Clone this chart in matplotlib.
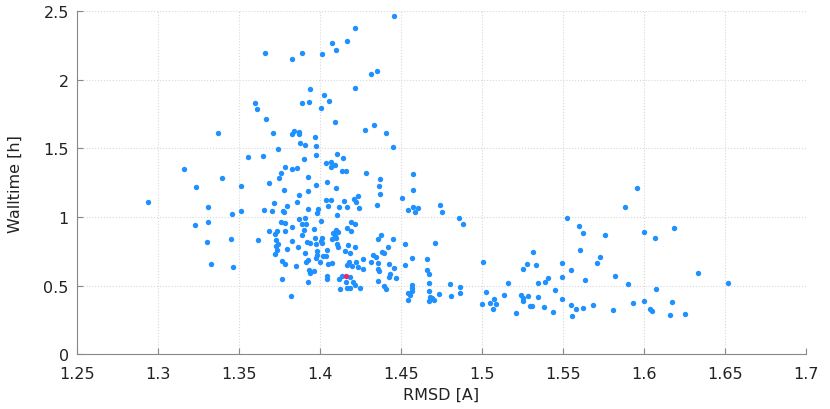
import matplotlib.pyplot as plt
from matplotlib.ticker import FormatStrFormatter

plt.rcParams['font.family'] = ['DejaVu Sans Condensed', 'Liberation Sans Narrow', 'DejaVu Sans']

# RMSD [A] / walltime [h] of each run
rmsd = [
    1.2938, 1.316, 1.3236, 1.3228, 1.331, 1.3309, 1.330, 1.3329, 1.3368, 1.3395,
    1.3451, 1.3459, 1.3461, 1.3512, 1.3514, 1.3556, 1.3597, 1.3613, 1.3619, 1.3646,
    1.3652, 1.366, 1.3665, 1.3683, 1.3687, 1.3706, 1.3712, 1.3716, 1.372, 1.372,
    1.3728, 1.3728, 1.3732, 1.3736, 1.3739, 1.374, 1.3749, 1.3757, 1.3761, 1.3763,
    1.3765, 1.3772, 1.3778, 1.378, 1.3782, 1.3782, 1.3784, 1.3786, 1.3794, 1.3798,
    1.3819, 1.3825, 1.3825, 1.3825, 1.3829, 1.3829, 1.384, 1.3854, 1.3856, 1.3858,
    1.3862, 1.3868, 1.3868, 1.3868, 1.3868, 1.3874, 1.3887, 1.3889, 1.389, 1.389,
    1.3901, 1.3903, 1.3905, 1.3907, 1.3907, 1.3914, 1.3914, 1.3921, 1.3926, 1.3928,
    1.3928, 1.3928, 1.3928, 1.393, 1.3932, 1.3936, 1.3938, 1.3938, 1.3965, 1.3965,
    1.3971, 1.3971, 1.3973, 1.3973, 1.3975, 1.3975, 1.3977, 1.398, 1.398, 1.3983,
    1.399, 1.3998, 1.4004, 1.4008, 1.4008, 1.401, 1.401, 1.4014, 1.402, 1.4027,
    1.4037, 1.4037, 1.4039, 1.4041, 1.4043, 1.4045, 1.4045, 1.4049, 1.4049, 1.4057,
    1.4068, 1.4068, 1.407, 1.4072, 1.4072, 1.4076, 1.4082, 1.4091, 1.4092, 1.4093,
    1.4096, 1.4099, 1.4099, 1.41, 1.4105, 1.4107, 1.4107, 1.4109, 1.4111, 1.4115,
    1.4119, 1.4123, 1.4134, 1.4138, 1.4144, 1.4148, 1.4154, 1.4158, 1.4163, 1.4165,
    1.4169, 1.4169, 1.4169, 1.4169, 1.4173, 1.4181, 1.4185, 1.4185, 1.4185, 1.4189,
    1.4191, 1.42, 1.4206, 1.421, 1.4216, 1.4216, 1.4216, 1.4218, 1.4218, 1.422,
    1.4224, 1.4235, 1.4236, 1.4239, 1.4247, 1.4263, 1.4267, 1.4276, 1.4284, 1.4315,
    1.4317, 1.4329, 1.4333, 1.4344, 1.4352, 1.4352, 1.4356, 1.4356, 1.436, 1.436,
    1.4362, 1.4366, 1.4372, 1.4372, 1.4377, 1.4381, 1.4395, 1.4397, 1.4405, 1.4407,
    1.4422, 1.4428, 1.4428, 1.4432, 1.4451, 1.4453, 1.4457, 1.4459, 1.4469, 1.4506,
    1.4525, 1.4525, 1.4545, 1.4572, 1.4584, 1.4605, 1.4565, 1.4576, 1.4576, 1.4568,
    1.4566, 1.4568, 1.4545, 1.4556, 1.4541, 1.4662, 1.4662, 1.4673, 1.4671, 1.4671,
    1.4679, 1.4675, 1.4689, 1.4706, 1.471, 1.4736, 1.4743, 1.4753, 1.4802, 1.4809,
    1.4856, 1.4862, 1.4866, 1.4883,
    1.4998, 1.5008, 1.5025, 1.5051, 1.5068, 1.5074, 1.5088, 1.5138, 1.5158, 1.5212,
    1.5243, 1.5255, 1.5253, 1.5282, 1.5296, 1.531, 1.5255, 1.5276, 1.5317, 1.5335,
    1.5343, 1.5348, 1.5386, 1.5405, 1.5383, 1.5436, 1.5448, 1.5492, 1.5494, 1.5492,
    1.5527, 1.5547, 1.5556, 1.5551, 1.5578, 1.5596, 1.5621, 1.5605, 1.5638, 1.5623,
    1.5687, 1.5707, 1.573, 1.5757, 1.5811, 1.5823, 1.5883, 1.5903, 1.5932, 1.5957,
    1.6002, 1.6002, 1.607, 1.6076, 1.6037, 1.6051, 1.616, 1.6187, 1.6331, 1.6519,
    1.617, 1.6255,
]
walltime = [
    1.107, 1.353, 1.217, 0.942, 1.071, 0.961, 0.818, 0.657, 1.611, 1.282,
    0.839, 1.024, 0.635, 1.226, 1.044, 1.436, 1.834, 1.79, 0.834, 1.448,
    1.053, 2.195, 1.715, 0.9, 1.245, 1.046, 1.613, 1.1, 0.878, 0.727,
    0.83, 0.786, 0.761, 0.898, 0.803, 1.494, 1.285, 1.319, 0.966, 0.545,
    0.681, 1.046, 1.197, 1.034, 1.363, 0.9, 0.657, 0.956, 1.08, 0.766,
    0.423, 2.153, 1.348, 1.606, 0.924, 0.825, 1.627, 0.639, 1.109, 1.355,
    0.779, 1.62, 1.608, 1.158, 0.985, 1.538, 0.869, 0.951, 2.197, 1.83,
    1.423, 0.905, 0.993, 1.528, 0.74, 0.949, 0.674, 0.815, 1.29, 1.19,
    1.061, 0.686, 0.523, 0.615, 1.842, 0.808, 1.932, 0.593, 0.91, 0.608,
    1.586, 0.847, 1.518, 0.803, 1.231, 0.701, 1.455, 1.027, 0.752, 0.725,
    1.061, 0.674, 0.825, 1.796, 0.973, 2.185, 0.812, 0.849, 0.713, 1.893,
    1.394, 1.122, 0.713, 0.567, 1.253, 0.759, 0.547, 1.083, 0.657, 1.847,
    1.399, 1.367, 1.122, 0.839, 0.664, 2.268, 0.881, 1.38, 0.864, 1.691,
    0.907, 2.219, 0.849, 1.209, 1.458, 1.012, 0.803, 0.888, 0.779, 1.075,
    0.547, 0.474, 1.334, 0.572, 1.428, 1.12, 0.75, 0.523, 1.336, 0.65,
    2.282, 1.073, 0.917, 0.479, 0.798, 0.674, 0.737, 0.559, 0.479, 0.9,
    0.966, 0.64, 0.528, 1.131, 2.38, 0.779, 0.504, 1.939, 0.949, 0.669,
    1.107, 1.156, 0.633, 1.063, 0.484, 0.693, 0.62, 1.637, 1.321, 0.669,
    2.046, 0.723, 1.674, 0.71, 2.061, 1.085, 0.839, 0.664, 0.62, 0.531,
    1.229, 0.603, 1.277, 1.166, 0.871, 0.742, 0.737, 0.499, 1.615, 0.474,
    0.779, 0.657, 0.559, 0.584, 1.511, 0.839, 0.625, 2.465, 0.555, 1.136,
    0.803, 0.652, 1.051, 1.071, 1.034, 1.063, 0.698, 1.311, 1.2, 0.502,
    0.479, 0.462, 0.443, 0.431, 0.392, 0.69, 0.613, 0.584, 0.516, 0.462,
    0.418, 0.387, 0.406, 0.396, 0.81, 0.435, 1.09, 1.036, 0.509, 0.423,
    0.993, 0.491, 0.445, 0.949,
    0.367, 0.674, 0.455, 0.374, 0.328, 0.399, 0.367, 0.431, 0.518, 0.299,
    0.433, 0.409, 0.387, 0.423, 0.353, 0.347, 0.618, 0.659, 0.742, 0.647,
    0.516, 0.416, 0.526, 0.552, 0.345, 0.307, 0.469, 0.662, 0.56, 0.399,
    0.99, 0.355, 0.275, 0.611, 0.326, 0.932, 0.885, 0.761, 0.542, 0.333,
    0.355, 0.667, 0.705, 0.866, 0.319, 0.572, 1.075, 0.513, 0.375, 1.212,
    0.893, 0.387, 0.847, 0.477, 0.328, 0.312, 0.285, 0.917, 0.593, 0.516,
    0.38, 0.294,
]
# highlighted run
best_rmsd = [1.416]
best_walltime = [0.572]

xticks = [1.25, 1.3, 1.35, 1.4, 1.45, 1.5, 1.55, 1.6, 1.65, 1.7]
yticks = [0, 0.5, 1, 1.5, 2, 2.5]

fig = plt.figure(figsize=(8.3, 4.1), dpi=100)
ax = fig.add_axes([0.093, 0.134, 0.878, 0.836])

ax.scatter(rmsd, walltime, s=15, color='#1e90ff', linewidths=0, zorder=3)
ax.scatter(best_rmsd, best_walltime, s=15, color='#e8267a', linewidths=0, zorder=4)

ax.set_xlim(1.25, 1.7)
ax.set_ylim(0, 2.5)
ax.set_xticks(xticks)
ax.set_yticks(yticks)
ax.xaxis.set_major_formatter(FormatStrFormatter('%g'))
ax.yaxis.set_major_formatter(FormatStrFormatter('%g'))

ax.grid(True, linestyle=':', color='#d8d8d8', linewidth=0.8)
ax.set_axisbelow(True)
for side in ['top', 'right']:
    ax.spines[side].set_visible(False)
for side in ['left', 'bottom']:
    ax.spines[side].set_color('#888888')
ax.tick_params(direction='in', length=4, color='#888888', labelcolor='#222222',
               labelsize=11.5)
ax.tick_params(axis='x', pad=8.5)
ax.tick_params(axis='y', pad=6)

ax.set_xlabel('RMSD [A]', fontsize=11.5, color='#222222', labelpad=4)
ax.set_ylabel('Walltime [h]', fontsize=11.5, color='#222222', labelpad=15)

fig.savefig('out.png', dpi=100)
